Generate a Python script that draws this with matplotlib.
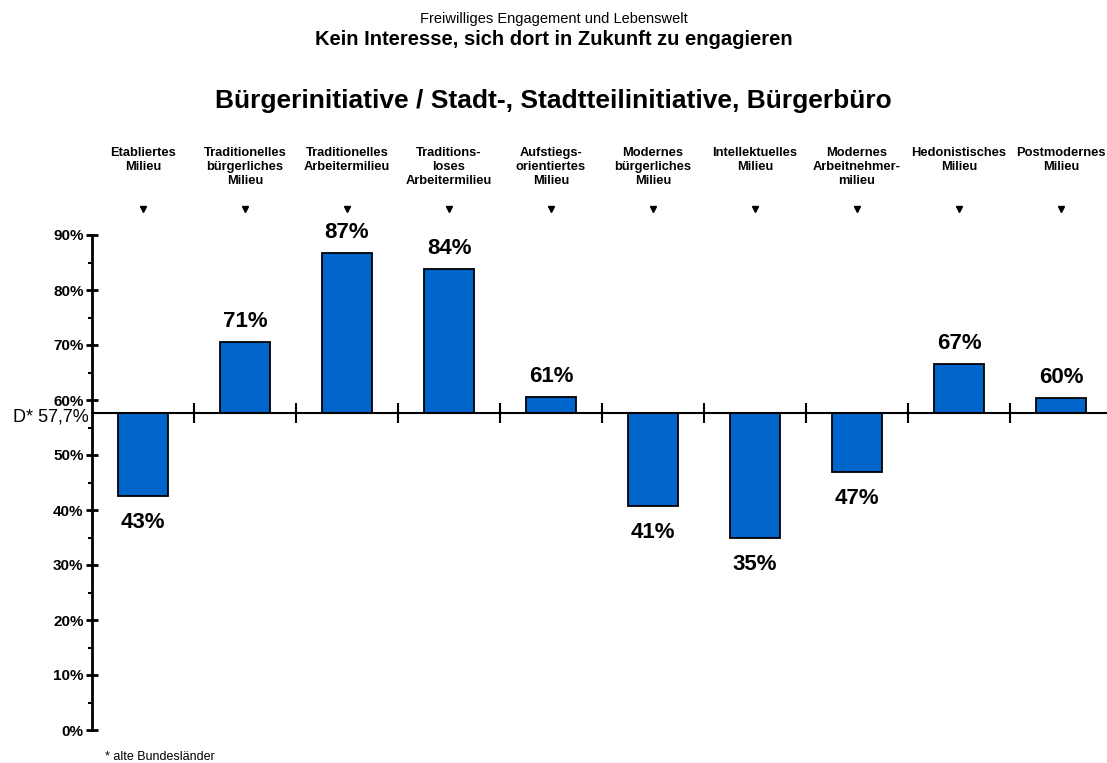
import matplotlib
matplotlib.use("Agg")
import matplotlib.pyplot as plt
from matplotlib.ticker import MultipleLocator, FuncFormatter

milieus = [
    "Etabliertes\nMilieu",
    "Traditionelles\nbürgerliches\nMilieu",
    "Traditionelles\nArbeitermilieu",
    "Traditions-\nloses\nArbeitermilieu",
    "Aufstiegs-\norientiertes\nMilieu",
    "Modernes\nbürgerliches\nMilieu",
    "Intellektuelles\nMilieu",
    "Modernes\nArbeitnehmer-\nmilieu",
    "Hedonistisches\nMilieu",
    "Postmodernes\nMilieu",
]
kein_interesse = [42.6, 70.6, 86.7, 83.8, 60.6, 40.8, 35.0, 47.0, 66.6, 60.4]
durchschnitt = 57.7  # alte Bundesländer

plt.rcParams["font.family"] = ["Liberation Sans", "DejaVu Sans"]

BLUE = "#0066CC"

fig = plt.figure(figsize=(11.07, 7.63), dpi=100)
W, H = 1107, 763
ax = fig.add_axes([92 / W, (H - 730) / H, 1020 / W, 495 / H])

x = list(range(len(milieus)))
heights = [v - durchschnitt for v in kein_interesse]
ax.bar(x, heights, bottom=durchschnitt, width=0.49, color=BLUE,
       edgecolor="black", linewidth=1.3, zorder=3)

ax.set_xlim(-0.5, len(milieus) - 0.5)
ax.set_ylim(0, 90)

# value labels above / below the bars
for xi, v in zip(x, kein_interesse):
    up = v >= durchschnitt
    ax.annotate(f"{v:.0f}%", (xi, v), xytext=(0, 7 if up else -12),
                textcoords="offset points", ha="center",
                va="bottom" if up else "top", fontsize=16, fontweight="bold",
                clip_on=False)

# y axis on the left, horizontal reference line at the average
for s in ["top", "right"]:
    ax.spines[s].set_visible(False)
ax.spines["left"].set_linewidth(2)
ax.spines["bottom"].set_position(("data", durchschnitt))
ax.spines["bottom"].set_linewidth(1.5)
ax.spines["bottom"].set_zorder(4)

ax.set_xticks([i + 0.5 for i in x])
ax.tick_params(axis="x", direction="inout", length=15, width=1.5, labelbottom=False)

ax.yaxis.set_major_locator(MultipleLocator(10))
ax.yaxis.set_minor_locator(MultipleLocator(5))
ax.yaxis.set_major_formatter(FuncFormatter(lambda v, p: f"{v:.0f}%"))
ax.tick_params(axis="y", which="major", direction="inout", length=8, width=2, pad=2)
ax.tick_params(axis="y", which="minor", direction="out", length=3, width=1.5)
for lab in ax.get_yticklabels():
    lab.set_fontweight("bold")
    lab.set_fontsize(11)

ax.annotate(f"D* {durchschnitt:.1f}%".replace(".", ","), (-0.5, durchschnitt),
            xytext=(-2, -3), textcoords="offset points", ha="right", va="center",
            fontsize=13, clip_on=False)

# category headers with small down arrows
tr = ax.get_xaxis_transform()
for xi, name in zip(x, milieus):
    ax.text(xi, (730 - 147) / 495, name, transform=tr, ha="center", va="top",
            fontsize=9.3, fontweight="bold", linespacing=1.25, clip_on=False)
ax.plot(x, [(730 - 209) / 495] * len(x), transform=tr, linestyle="none",
        marker="v", markersize=5, color="black", clip_on=False)

fig.text(0.5, 1 - 23 / H, "Freiwilliges Engagement und Lebenswelt",
         ha="center", va="baseline", fontsize=10.5)
fig.text(0.5, 1 - 45 / H, "Kein Interesse, sich dort in Zukunft zu engagieren",
         ha="center", va="baseline", fontsize=14.5, fontweight="bold")
fig.text(0.5, 1 - 108 / H, "Bürgerinitiative / Stadt-, Stadtteilinitiative, Bürgerbüro",
         ha="center", va="baseline", fontsize=19, fontweight="bold")
fig.text(105 / W, 1 - 760 / H, "* alte Bundesländer", ha="left", va="baseline",
         fontsize=9)

fig.savefig("out.png", dpi=100)
